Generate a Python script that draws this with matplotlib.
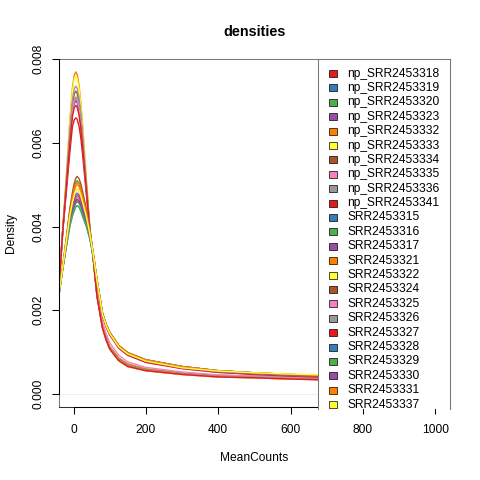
import matplotlib
matplotlib.use("Agg")
import matplotlib.pyplot as plt
from matplotlib.patches import Rectangle

plt.rcParams['font.family'] = ['Liberation Sans', 'DejaVu Sans']

# ---- data ----
mean_counts = [-40, -30, -20, -10, -3, 2, 6, 10, 15, 20, 25, 35, 45, 55, 65, 80, 90, 100,
               125, 150, 200, 300, 400, 500, 600, 700, 800, 900, 1000, 1040]

np_samples = ["np_SRR2453318", "np_SRR2453319", "np_SRR2453320", "np_SRR2453323",
              "np_SRR2453332", "np_SRR2453333", "np_SRR2453334", "np_SRR2453335",
              "np_SRR2453336", "np_SRR2453341"]
srr_samples = ["SRR2453315", "SRR2453316", "SRR2453317", "SRR2453321", "SRR2453322",
               "SRR2453324", "SRR2453325", "SRR2453326", "SRR2453327", "SRR2453328",
               "SRR2453329", "SRR2453330", "SRR2453331", "SRR2453337"]

dens_np = [
    [.00255, .00385, .00482, .00579, .00639, .00655, .00660, .00657, .00641, .00613, .00573, .00482, .00389, .00318, .00232, .00157, .00129, .00107, .00079, .00065, .00055, .00046, .00040, .00038, .00035, .00033, .00030, .00027, .00017, .00003],
    [.00262, .00387, .00496, .00607, .00673, .00694, .00700, .00696, .00677, .00644, .00599, .00496, .00393, .00320, .00235, .00160, .00132, .00110, .00082, .00068, .00057, .00048, .00042, .00040, .00037, .00034, .00031, .00028, .00018, .00003],
    [.00264, .00387, .00499, .00614, .00681, .00704, .00710, .00706, .00686, .00652, .00605, .00499, .00394, .00322, .00238, .00163, .00135, .00113, .00085, .00071, .00059, .00050, .00044, .00042, .00039, .00036, .00033, .00029, .00019, .00003],
    [.00258, .00387, .00497, .00611, .00677, .00699, .00705, .00701, .00682, .00648, .00602, .00497, .00394, .00320, .00235, .00160, .00132, .00110, .00082, .00068, .00057, .00048, .00042, .00040, .00037, .00034, .00031, .00028, .00018, .00003],
    [.00260, .00390, .00520, .00656, .00732, .00762, .00770, .00764, .00740, .00699, .00644, .00520, .00400, .00322, .00238, .00163, .00135, .00113, .00085, .00071, .00059, .00050, .00044, .00042, .00039, .00036, .00033, .00029, .00019, .00003],
    [.00256, .00390, .00517, .00649, .00724, .00752, .00760, .00754, .00731, .00691, .00638, .00517, .00399, .00318, .00232, .00157, .00129, .00107, .00079, .00065, .00055, .00046, .00040, .00038, .00035, .00033, .00030, .00027, .00017, .00003],
    [.00262, .00388, .00504, .00624, .00693, .00717, .00724, .00719, .00699, .00663, .00614, .00504, .00395, .00320, .00235, .00160, .00132, .00110, .00082, .00068, .00057, .00048, .00042, .00040, .00037, .00034, .00031, .00028, .00018, .00003],
    [.00265, .00387, .00498, .00613, .00679, .00702, .00708, .00704, .00684, .00651, .00604, .00498, .00394, .00325, .00245, .00172, .00144, .00122, .00092, .00076, .00063, .00052, .00045, .00042, .00039, .00036, .00033, .00029, .00019, .00003],
    [.00260, .00388, .00508, .00632, .00703, .00729, .00736, .00731, .00709, .00673, .00622, .00508, .00397, .00320, .00235, .00160, .00132, .00110, .00082, .00068, .00057, .00048, .00042, .00040, .00037, .00034, .00031, .00028, .00018, .00003],
    [.00257, .00386, .00492, .00600, .00664, .00684, .00690, .00686, .00668, .00637, .00592, .00492, .00392, .00318, .00232, .00157, .00129, .00107, .00079, .00065, .00055, .00046, .00040, .00038, .00035, .00033, .00030, .00027, .00017, .00003],
]

dens_srr = [
    [.00240, .00297, .00351, .00402, .00426, .00438, .00447, .00450, .00447, .00438, .00425, .00402, .00371, .00327, .00272, .00193, .00166, .00147, .00115, .00098, .00081, .00065, .00055, .00050, .00046, .00043, .00040, .00036, .00021, .00003],
    [.00242, .00303, .00369, .00438, .00474, .00494, .00505, .00510, .00505, .00494, .00476, .00438, .00389, .00333, .00272, .00193, .00166, .00147, .00115, .00098, .00081, .00065, .00055, .00050, .00046, .00043, .00040, .00036, .00021, .00003],
    [.00240, .00300, .00360, .00420, .00450, .00466, .00476, .00480, .00476, .00466, .00450, .00420, .00380, .00330, .00270, .00190, .00163, .00144, .00112, .00095, .00078, .00062, .00053, .00048, .00044, .00041, .00038, .00034, .00020, .00003],
    [.00241, .00302, .00366, .00432, .00466, .00485, .00496, .00500, .00496, .00484, .00467, .00432, .00386, .00332, .00272, .00193, .00166, .00147, .00115, .00098, .00081, .00065, .00055, .00050, .00046, .00043, .00040, .00036, .00021, .00003],
    [.00239, .00298, .00354, .00408, .00434, .00447, .00456, .00460, .00456, .00448, .00433, .00408, .00374, .00328, .00270, .00190, .00163, .00144, .00112, .00095, .00078, .00062, .00053, .00048, .00044, .00041, .00038, .00034, .00020, .00003],
    [.00243, .00304, .00372, .00444, .00482, .00503, .00515, .00520, .00515, .00503, .00484, .00444, .00392, .00334, .00270, .00190, .00163, .00144, .00112, .00095, .00078, .00062, .00053, .00048, .00044, .00041, .00038, .00034, .00020, .00003],
    [.00240, .00301, .00363, .00426, .00458, .00475, .00486, .00490, .00486, .00475, .00459, .00426, .00383, .00331, .00268, .00187, .00160, .00141, .00109, .00092, .00075, .00060, .00051, .00046, .00042, .00039, .00036, .00032, .00019, .00003],
    [.00239, .00299, .00357, .00414, .00442, .00457, .00466, .00470, .00466, .00457, .00442, .00414, .00377, .00329, .00270, .00190, .00163, .00144, .00112, .00095, .00078, .00062, .00053, .00048, .00044, .00041, .00038, .00034, .00020, .00003],
    [.00238, .00299, .00356, .00411, .00438, .00452, .00461, .00465, .00461, .00452, .00437, .00411, .00376, .00329, .00268, .00187, .00160, .00141, .00109, .00092, .00075, .00060, .00051, .00046, .00042, .00039, .00036, .00032, .00019, .00003],
    [.00239, .00298, .00354, .00408, .00434, .00447, .00456, .00460, .00456, .00448, .00433, .00408, .00374, .00328, .00272, .00193, .00166, .00147, .00115, .00098, .00081, .00065, .00055, .00050, .00046, .00043, .00040, .00036, .00021, .00003],
    [.00238, .00297, .00351, .00402, .00426, .00438, .00447, .00450, .00447, .00438, .00425, .00402, .00371, .00327, .00270, .00190, .00163, .00144, .00112, .00095, .00078, .00062, .00053, .00048, .00044, .00041, .00038, .00034, .00020, .00003],
    [.00240, .00300, .00359, .00417, .00446, .00461, .00471, .00475, .00471, .00461, .00446, .00417, .00379, .00330, .00270, .00190, .00163, .00144, .00112, .00095, .00078, .00062, .00053, .00048, .00044, .00041, .00038, .00034, .00020, .00003],
    [.00241, .00303, .00367, .00435, .00470, .00489, .00501, .00505, .00501, .00489, .00471, .00435, .00387, .00332, .00272, .00193, .00166, .00147, .00115, .00098, .00081, .00065, .00055, .00050, .00046, .00043, .00040, .00036, .00021, .00003],
    [.00240, .00301, .00363, .00426, .00458, .00475, .00486, .00490, .00486, .00475, .00459, .00426, .00383, .00331, .00270, .00190, .00163, .00144, .00112, .00095, .00078, .00062, .00054, .00050, .00047, .00045, .00043, .00040, .00024, .00003],
]

set1 = ["#E41A1C", "#377EB8", "#4DAF4A", "#984EA3", "#FF7F00",
        "#FFFF33", "#A65628", "#F781BF", "#999999"]

x_ticks = [0, 200, 400, 600, 800, 1000]
y_ticks = [0.000, 0.002, 0.004, 0.006, 0.008]
y_tick_labels = ["0.000", "0.002", "0.004", "0.006", "0.008"]

# ---- figure ----
W = H = 480.0
fig = plt.figure(figsize=(4.8, 4.8), dpi=100)
ax = fig.add_axes([59.04 / W, 73.44 / H, 390.72 / W, 347.52 / H])

ax.axhline(0, color="#eeeeee", lw=0.8, zorder=0)

labels = np_samples + srr_samples
curves = dens_np + dens_srr
for i, (lab, ys) in enumerate(zip(labels, curves)):
    ax.plot(mean_counts, ys, color=set1[i % 9], lw=1.0, solid_joinstyle="round")

ax.set_xlim(-40, 1040)
ax.set_ylim(-0.000308, 0.008008)
ax.set_xticks(x_ticks)
ax.set_xticklabels([str(v) for v in x_ticks])
ax.set_yticks(y_ticks)
ax.set_yticklabels(y_tick_labels, rotation=90, va="center")
ax.tick_params(axis="both", length=5.2, width=0.75, labelsize=8.64, color="black")
ax.tick_params(axis="x", pad=7)
ax.tick_params(axis="y", pad=5.5)
for s in ax.spines.values():
    s.set_color("#777777")
    s.set_linewidth(0.75)
ax.spines["bottom"].set_color("#333333")
# axis lines over tick range (R style)
ax.plot([0, 1000], [-0.000308, -0.000308], color="black", lw=0.75, clip_on=False, zorder=5)
ax.plot([-40, -40], [0, 0.008], color="black", lw=0.75, clip_on=False, zorder=5)

fig.text(254.4 / W, 1 - 36.5 / H, "densities", ha="center", va="baseline",
         fontsize=10.4, fontweight="bold")
fig.text(254.4 / W, 1 - 461 / H, "MeanCounts", ha="center", va="baseline", fontsize=8.64)
fig.text(14 / W, 1 - 233 / H, "Density", rotation=90, rotation_mode="anchor",
         ha="center", va="baseline", fontsize=8.64)

# ---- legend (clipped like the reference) ----
lx0, lx1, ly0, ly1 = 318.0, 449.8, 59.0, 408.5
lax = fig.add_axes([lx0 / W, (H - ly1) / H, (lx1 - lx0) / W, (ly1 - ly0) / H])
lax.set_xlim(lx0, lx1)
lax.set_ylim(ly1, ly0)
lax.set_xticks([])
lax.set_yticks([])
lax.set_facecolor("white")
for k, s in lax.spines.items():
    s.set_color("#777777")
    s.set_linewidth(0.75)
lax.spines["bottom"].set_visible(False)
for i, lab in enumerate(labels):
    yc = 73.5 + 14.4 * i
    lax.add_patch(Rectangle((329, yc - 3.5), 8, 7, facecolor=set1[i % 9],
                            edgecolor="black", lw=0.5))
    lax.text(347.5, yc, lab, va="center", ha="left", fontsize=8.64, clip_on=True)

fig.savefig("out.png", dpi=100)
